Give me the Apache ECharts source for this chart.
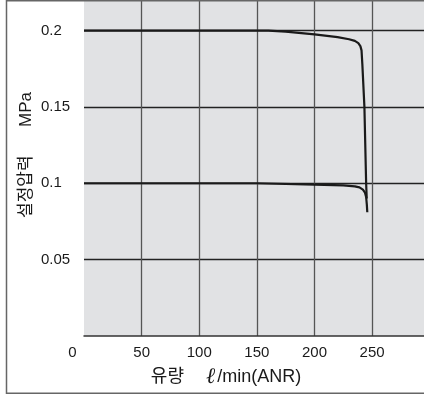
<!DOCTYPE html>
<html>
<head>
<meta charset="utf-8">
<script src="https://cdn.jsdelivr.net/npm/echarts@6/dist/echarts.min.js"></script>
<style>
  html, body { margin: 0; padding: 0; background: #fff; }
  #chart { width: 424px; height: 396px; }
</style>
</head>
<body>
<div id="chart"></div>
<script>
// flow rate (l/min ANR) vs set pressure (MPa)
const flowHigh = [0, 160, 175, 200, 220, 230, 235, 238, 239.8, 240.8, 241.5, 243.3, 244.8, 245.3];
const pressHigh = [0.2, 0.2, 0.1993, 0.1975, 0.1957, 0.1943, 0.1932, 0.1918, 0.1898, 0.187, 0.178, 0.15, 0.1, 0.09];
const flowLow = [0, 150, 200, 225, 235, 239, 242, 243.8, 244.8, 245.4, 245.8];
const pressLow = [0.1, 0.1, 0.0991, 0.0986, 0.098, 0.0973, 0.0958, 0.0938, 0.091, 0.086, 0.081];
const xTicks = [0, 50, 100, 150, 200, 250];
const yTicks = [0.05, 0.1, 0.15, 0.2];

const FONT = "'Liberation Sans', Arial, 'Noto Sans CJK KR', sans-serif";
const toPairs = (xs, ys) => xs.map((x, i) => [x, ys[i]]);

const chart = echarts.init(document.getElementById('chart'));
chart.setOption({
  animation: false,
  grid: {
    left: 84, right: 0, top: 0, bottom: 60,
    show: true, backgroundColor: '#e1e2e4', borderWidth: 0
  },
  xAxis: {
    type: 'value', min: 0, max: 295, interval: 50,
    name: '유량  {l|ℓ}/min(ANR)',
    nameLocation: 'middle', nameGap: 30, nameMoveOverlap: false,
    nameTextStyle: {
      fontFamily: FONT, fontSize: 18, color: '#1a1a1a', padding: [0, 56, 0, 0],
      rich: { l: { fontFamily: 'DejaVu Serif', fontSize: 22, fontStyle: 'italic', color: '#1a1a1a', padding: [0, 2, 0, 12] } }
    },
    axisLine: { show: true, lineStyle: { color: '#333', width: 1.5 } },
    axisTick: { show: false },
    axisLabel: {
      margin: 9, fontFamily: FONT, fontSize: 15, color: '#1a1a1a', showMaxLabel: false,
      formatter: v => xTicks.includes(v) ? (v === 0 ? '{z|0}' : String(v)) : '',
      rich: { z: { fontFamily: FONT, fontSize: 15, color: '#1a1a1a', padding: [0, 23, 0, 0] } }
    },
    splitLine: { show: true, showMinLine: false, showMaxLine: false, lineStyle: { color: '#555', width: 1.3 } }
  },
  yAxis: {
    type: 'value', min: 0, max: 0.22, interval: 0.05,
    name: '설정압력      MPa',
    nameLocation: 'middle', nameGap: 49, nameRotate: 90, nameMoveOverlap: false,
    nameTextStyle: { fontFamily: FONT, fontSize: 17, color: '#1a1a1a', padding: [0, 0, 0, 26] },
    axisLine: { show: false },
    axisTick: { show: false },
    axisLabel: {
      align: 'left', margin: 43, fontFamily: FONT, fontSize: 15, color: '#1a1a1a',
      showMinLabel: false, showMaxLabel: false,
      formatter: v => {
        const t = yTicks.find(y => Math.abs(y - v) < 1e-6);
        return t === undefined ? '' : String(t);
      }
    },
    splitLine: { show: true, showMinLine: false, showMaxLine: false, lineStyle: { color: '#222', width: 1.3 } }
  },
  graphic: [{
    type: 'rect', silent: true, z: 100,
    shape: { x: 6.5, y: 0.75, width: 440, height: 392.5 },
    style: { fill: 'none', stroke: '#666', lineWidth: 1.5 }
  }],
  series: [
    {
      type: 'line', data: toPairs(flowHigh, pressHigh), showSymbol: false, smooth: false,
      lineStyle: { color: '#1a1a1a', width: 2.2 }
    },
    {
      type: 'line', data: toPairs(flowLow, pressLow), showSymbol: false, smooth: false,
      lineStyle: { color: '#1a1a1a', width: 2.2 }
    }
  ]
});
</script>
</body>
</html>
